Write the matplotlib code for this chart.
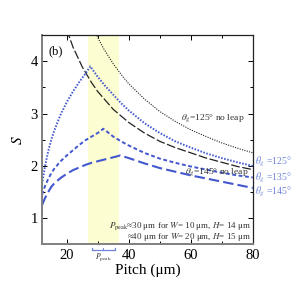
import matplotlib
matplotlib.use("Agg")
import matplotlib.pyplot as plt
from matplotlib.ticker import MultipleLocator

plt.rcParams['font.family'] = ['Liberation Serif', 'DejaVu Serif']
plt.rcParams['mathtext.fontset'] = 'stix'

# ---- data ----
# theta_g = 125 deg, no leap (black dotted)
p_nl125 = [28, 29, 30, 32, 35, 38, 40, 45, 50, 55, 60, 65, 70, 75, 80]
s_nl125 = [4.70, 4.58, 4.45, 4.23, 3.95, 3.71, 3.57, 3.28, 3.04, 2.85, 2.69, 2.56, 2.44, 2.34, 2.25]
# theta_g = 145 deg, no leap (black dashed)
p_nl145 = [20, 22, 25, 28, 30, 35, 40, 45, 50, 55, 60, 65, 70, 75, 80]
s_nl145 = [4.60, 4.27, 3.89, 3.59, 3.42, 3.08, 2.83, 2.63, 2.47, 2.35, 2.25, 2.15, 2.07, 1.99, 1.93]
# theta_g = 125 deg (blue dotted)
p_125 = [12, 13, 14, 15, 16, 18, 20, 22, 24, 26, 27.6, 30, 32.5, 35, 37.5, 40, 45, 50, 55, 60, 65, 70, 75, 80]
s_125 = [1.65, 2.00, 2.28, 2.50, 2.68, 2.98, 3.22, 3.42, 3.60, 3.76, 3.90, 3.70, 3.52, 3.36, 3.20, 3.06, 2.82, 2.63, 2.47, 2.35, 2.24, 2.15, 2.07, 2.00]
# theta_g = 135 deg (blue short dashed)
p_135 = [12, 13, 14, 15, 16, 18, 20, 22, 24, 26, 28, 30, 31.8, 35, 37.5, 40, 45, 50, 55, 60, 65, 70, 75, 80]
s_135 = [1.45, 1.62, 1.75, 1.86, 1.95, 2.09, 2.20, 2.30, 2.40, 2.49, 2.56, 2.63, 2.71, 2.56, 2.47, 2.39, 2.25, 2.14, 2.06, 1.99, 1.93, 1.87, 1.82, 1.78]
# theta_g = 145 deg (blue long dashed)
p_145 = [12, 13, 14, 15, 16, 18, 20, 22, 24, 26, 28, 30, 32, 34, 36, 37.2, 40, 45, 50, 55, 60, 65, 70, 75, 80]
s_145 = [1.25, 1.39, 1.50, 1.60, 1.67, 1.77, 1.85, 1.92, 1.97, 2.02, 2.06, 2.09, 2.12, 2.15, 2.18, 2.20, 2.15, 2.05, 1.96, 1.89, 1.82, 1.76, 1.70, 1.64, 1.58]

band = [27, 37]
bracket = [28, 35.5]

blue = '#4358cf'
lblue = '#7083dc'

fig = plt.figure(figsize=(2.91, 2.90), dpi=100)
ax = fig.add_axes([0.1443, 0.1569, 0.7241, 0.7224])

ax.axvspan(band[0], band[1], color='#fdfdd2', zorder=0, lw=0)

ax.plot(p_nl125, s_nl125, color='#222222', lw=0.8, dashes=(1, 1.2))
ax.plot(p_nl145, s_nl145, color='#222222', lw=0.9, dashes=(7, 2))
ax.plot(p_125, s_125, color=blue, lw=1.4, dashes=(0.8, 0.8))
ax.plot(p_135, s_135, color=blue, lw=1.4, dashes=(2, 1.3))
ax.plot(p_145, s_145, color=blue, lw=1.5, dashes=(5, 2))

ax.set_xlim(12, 80)
ax.set_ylim(0.5, 4.5)
ax.xaxis.set_major_locator(MultipleLocator(20))
ax.xaxis.set_minor_locator(MultipleLocator(10))
ax.yaxis.set_major_locator(MultipleLocator(1))
ax.yaxis.set_minor_locator(MultipleLocator(0.5))
ax.tick_params(which='both', direction='in', top=True, right=True, labelsize=10.5, pad=3)
ax.tick_params(which='major', length=3.5, width=0.7)
ax.tick_params(which='minor', length=2, width=0.7)
for s in ['left', 'bottom']:
    ax.spines[s].set_color('#808080')
    ax.spines[s].set_linewidth(1.4)
for s in ['top', 'right']:
    ax.spines[s].set_color('#222222')
    ax.spines[s].set_linewidth(0.9)

ax.set_xlabel('Pitch (μm)', fontsize=11, labelpad=1)
ax.set_ylabel('$S$', fontsize=11, labelpad=4)

ax.text(14.0, 4.18, '(b)', fontsize=9, va='center', ha='left')
ax.text(57.0, 2.92, r'$\theta_g$=125° no leap', fontsize=6.8, color='#333333', va='center', ha='left')
ax.text(58.0, 1.89, r'$\theta_g$=145° no leap', fontsize=6.8, color='#333333', va='center', ha='left')

ax.text(80.8, 2.08, r'$\theta_g$ =125°', fontsize=7, color=lblue, va='center', ha='left', clip_on=False)
ax.text(80.8, 1.78, r'$\theta_g$ =135°', fontsize=7, color=lblue, va='center', ha='left', clip_on=False)
ax.text(80.8, 1.51, r'$\theta_g$ =145°', fontsize=7, color=lblue, va='center', ha='left', clip_on=False)

ax.text(79.5, 0.86, r'$P_{\rm peak}$≈30 μm for $W$= 10 μm, $H$= 14 μm', fontsize=6.5, color='#333333', va='center', ha='right')
ax.text(79.5, 0.645, r'≈40 μm for $W$= 20 μm, $H$= 15 μm', fontsize=6.5, color='#333333', va='center', ha='right')

# bracket below axis
yb = 0.40
ax.plot([bracket[0], bracket[0], bracket[1], bracket[1]], [yb + 0.04, yb, yb, yb + 0.04],
        color=lblue, lw=0.9, clip_on=False)
ax.plot([sum(bracket) / 2, sum(bracket) / 2], [yb, yb + 0.03], color=lblue, lw=0.7, clip_on=False)
ax.text(sum(bracket) / 2, 0.25, r'$P_{\rm peak}$', fontsize=5.5, color='#333333', ha='center', va='center')

fig.savefig('out.png', dpi=100)
